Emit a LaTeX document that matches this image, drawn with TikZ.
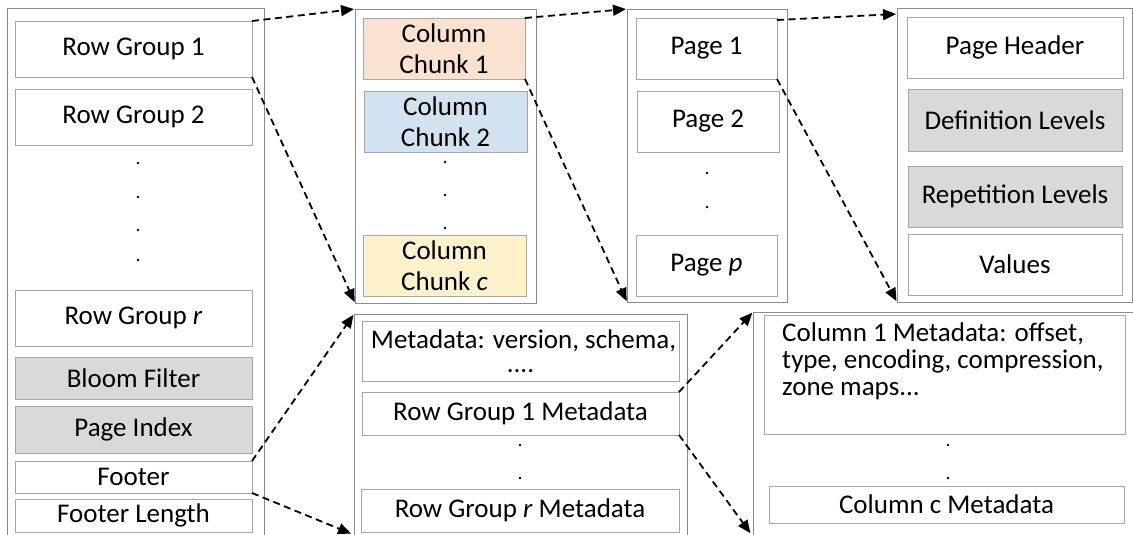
\documentclass[tikz,border=0pt]{standalone}
\usepackage{fontspec}
\setmainfont{Carlito}
\usetikzlibrary{arrows.meta}
\definecolor{edgegray}{HTML}{A6A6A6}
\definecolor{framegray}{HTML}{8C8C8C}
\definecolor{lightgray}{HTML}{D9D9D9}
\definecolor{peach}{HTML}{F9E3D0}
\definecolor{paleblue}{HTML}{D3E2F1}
\definecolor{paleyellow}{HTML}{FEF2CD}
\tikzset{
  cellbox/.style={draw=edgegray, line width=0.9pt, fill=white, inner sep=0pt, outer sep=0pt,
    font=\fontsize{27}{31}\selectfont, align=center},
  framebox/.style={draw=framegray, line width=0.9pt, inner sep=0pt, outer sep=0pt},
  link/.style={draw=black, line width=1.8pt, dash pattern=on 7pt off 4.5pt,
    -{Triangle[length=13pt,width=11pt]}, shorten >=1pt},
  dotmark/.style={fill=black}
}
% a cell given by its corners (x1,y1) and (x2,y2), y counted downwards
\newcommand\cell[7][]{\node[cellbox,#1,minimum width={(#5-#3)*1pt},minimum height={(#6-#4)*1pt}]
  (#2) at ({(#3+#5)/2},{(#4+#6)/2}) {#7};}
\newcommand\frm[5]{\node[framebox,minimum width={(#4-#2)*1pt},minimum height={(#5-#3)*1pt}]
  (#1) at ({(#2+#4)/2},{(#3+#5)/2}) {};}
\newcommand\vdot[2]{\fill[dotmark] (#1,#2) circle (1.3pt);}
\begin{document}
\begin{tikzpicture}[x=1pt,y=-1pt]
\useasboundingbox (0,0) rectangle (1133,535);
\clip (0,0) rectangle (1133,535);
\fill[white] (0,0) rectangle (1133,535);

% file layout
\frm{file}{7}{8}{264}{545}
\cell{rg1}{15}{21}{252}{77}{Row Group 1}
\cell{rg2}{15}{89}{252}{145}{Row Group 2}
\vdot{138}{163}\vdot{138}{197}\vdot{138}{230}\vdot{138}{260}
\cell{rgr}{15}{290}{252}{346}{Row Group \textit{r}}
\cell[fill=lightgray]{bloom}{15}{357}{252}{399}{Bloom Filter}
\cell[fill=lightgray]{pidx}{15}{406}{252}{453}{Page Index}
\cell{footer}{15}{461}{252}{493}{Footer}
\cell{flen}{15}{499}{252}{532}{Footer Length}

% row group: column chunks
\frm{chunks}{355}{9}{536}{303}
\cell[fill=peach]{cc1}{363}{18}{525}{79}{Column\\Chunk 1}
\cell[fill=paleblue]{cc2}{364}{91}{527}{152}{Column\\Chunk 2}
\vdot{445}{162}\vdot{445}{195}\vdot{445}{228}
\cell[fill=paleyellow]{ccc}{363}{235}{526}{296}{Column\\Chunk \textit{c}}

% column chunk: pages
\frm{pages}{627}{9}{787}{302}
\cell{p1}{636}{18}{777}{79}{Page 1}
\cell{p2}{637}{91}{779}{152}{Page 2}
\vdot{707}{173}\vdot{707}{207}
\cell{pp}{636}{235}{777}{296}{Page \textit{p}}

% page contents
\frm{page}{897}{8}{1132}{302}
\cell{phead}{907}{17}{1123}{78}{Page Header}
\cell[fill=lightgray]{deflev}{908}{89}{1122}{151}{Definition Levels}
\cell[fill=lightgray]{replev}{908}{166}{1122}{227}{Repetition Levels}
\cell{vals}{908}{234}{1122}{295}{Values}

% footer: file metadata
\frm{meta}{354}{314}{687}{545}
\cell[font=\fontsize{27}{20}\selectfont]{fmeta}{362}{321}{679}{381}{\hspace*{6pt}Metadata: version, schema,\\[4pt]....}
\cell{rg1m}{362}{392}{679}{435}{Row Group 1 Metadata}
\vdot{520}{445}\vdot{520}{478}
\cell{rgrm}{361}{489}{679}{532}{Row Group \textit{r} Metadata}

% row group metadata: column metadata
\frm{colmeta}{753}{312}{1160}{545}
\cell{c1m}{764}{315}{1125}{434}{}
\node[anchor=north west, inner sep=0pt, align=left, font=\fontsize{27}{27}\selectfont]
  (c1mtext) at (782,323) {Column 1 Metadata: offset,\\type, encoding, compression,\\zone maps...};
\vdot{948}{445}\vdot{948}{478}
\cell{ccm}{769}{486}{1124}{523}{Column c Metadata}

\coordinate (metabot) at (352,534);
\coordinate (colmetabot) at (751,534);

% links from each part to its expansion
\draw[link] (rg1.north east) -- (chunks.north west);
\draw[link] (rg1.south east) -- (chunks.south west);
\draw[link] (footer.north east) -- (meta.north west);
\draw[link] (footer.south east) -- (metabot);
\draw[link] (cc1.north east) -- (pages.north west);
\draw[link] (cc1.south east) -- (pages.south west);
\draw[link] ([yshift=-2pt]p1.north east) -- ([yshift=-6pt]page.north west);
\draw[link] (p1.south east) -- (page.south west);
\draw[link] (rg1m.north east) -- (colmeta.north west);
\draw[link] (rg1m.south east) -- (colmetabot);
\end{tikzpicture}
\end{document}
